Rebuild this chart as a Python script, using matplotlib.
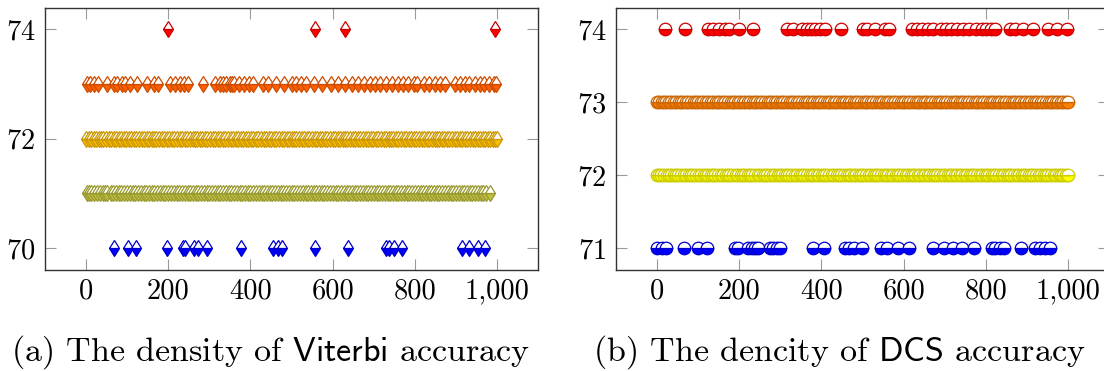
import matplotlib
matplotlib.use("Agg")
import matplotlib.pyplot as plt
from matplotlib.colors import LinearSegmentedColormap, Normalize
from matplotlib.ticker import FuncFormatter

plt.rcParams['font.family'] = 'cmr10'
plt.rcParams['mathtext.fontset'] = 'cm'
plt.rcParams['axes.formatter.use_mathtext'] = True

# pgfplots "hot" colormap
hot = LinearSegmentedColormap.from_list(
    'pgf_hot', [(0, (0, 0, 1)), (1/3, (1, 1, 0)), (2/3, (1, 0.5, 0)), (1, (1, 0, 0))])

# (a) Viterbi accuracy: x positions for each accuracy level
vit_levels = [70, 71, 72, 73, 74]
vit_74 = [200, 557, 629, 995]
vit_73 = [2, 10, 18, 28, 51, 67, 76, 87, 95, 107, 123, 147, 164, 176, 204, 216,
          228, 238, 248, 284, 313, 325, 334, 341, 349, 355, 361, 373, 385, 397,
          407, 430, 442, 462, 482, 502, 512, 522, 534, 555, 575, 595, 613, 631,
          647, 662, 676, 690, 702, 716, 731, 745, 758, 770, 784, 797, 806, 822,
          835, 848, 861, 874, 898, 910, 921, 933, 946, 958, 969, 981, 992, 998]
vit_72 = [0, 6, 13, 19, 24, 31, 37, 42, 49, 55, 61, 68, 73, 80, 86, 91, 98, 104,
          110, 117, 122, 129, 135, 141, 147, 153, 160, 166, 171, 178, 184, 190,
          197, 202, 209, 215, 221, 228, 233, 240, 246, 252, 259, 264, 271, 277,
          283, 290, 295, 302, 308, 314, 321, 326, 333, 339, 345, 352, 357, 364,
          370, 376, 383, 388, 395, 401, 407, 414, 419, 426, 432, 438, 445, 450,
          457, 463, 469, 476, 481, 488, 494, 500, 507, 512, 519, 525, 531, 538,
          543, 550, 556, 562, 569, 574, 581, 587, 593, 600, 605, 612, 618, 624,
          631, 636, 643, 649, 655, 662, 667, 674, 680, 686, 693, 698, 705, 711,
          717, 724, 729, 736, 742, 748, 755, 760, 767, 773, 779, 786, 791, 798,
          804, 810, 817, 822, 829, 835, 841, 848, 853, 860, 866, 872, 879, 884,
          891, 897, 903, 910, 915, 922, 928, 934, 941, 946, 953, 959, 965, 972,
          977, 984, 990, 996, 999]
vit_71 = [1, 7, 12, 20, 27, 33, 40, 47, 52, 60, 66, 73, 79, 86, 93, 99, 106, 113,
          119, 126, 133, 140, 146, 153, 160, 166, 173, 180, 186, 193, 200, 207,
          214, 220, 227, 233, 240, 247, 254, 260, 267, 273, 280, 287, 294, 300,
          307, 314, 320, 327, 334, 340, 347, 353, 360, 367, 374, 380, 387, 394,
          400, 407, 413, 420, 427, 434, 440, 447, 453, 460, 467, 474, 480, 487,
          494, 500, 507, 514, 520, 527, 534, 540, 547, 554, 560, 567, 574, 580,
          587, 594, 600, 607, 614, 620, 627, 634, 640, 647, 654, 660, 667, 674,
          680, 687, 694, 700, 707, 714, 720, 727, 734, 740, 747, 754, 760, 767,
          774, 780, 787, 794, 800, 807, 814, 820, 827, 834, 840, 847, 854, 860,
          867, 874, 880, 887, 894, 900, 907, 914, 920, 927, 934, 940, 947, 954,
          960, 967, 974, 982]
vit_70 = [67, 101, 122, 196, 236, 240, 263, 272, 295, 378, 454, 466, 476, 556,
          637, 729, 736, 750, 769, 915, 931, 954, 970]

# (b) DCS accuracy
dcs_levels = [71, 72, 73, 74]
dcs_74 = [18, 69, 125, 137, 150, 165, 175, 200, 234, 316, 331, 352, 364, 375,
          384, 397, 409, 448, 500, 510, 531, 555, 565, 620, 632, 645, 660, 672,
          690, 703, 715, 730, 745, 760, 775, 790, 800, 812, 822, 859, 871, 890,
          915, 951, 973, 997]
dcs_73 = [0, 5, 11, 17, 22, 28, 35, 40, 46, 53, 58, 64, 71, 76, 82, 89, 94, 100,
          107, 112, 118, 125, 130, 136, 143, 148, 154, 161, 166, 172, 179, 184,
          190, 197, 202, 208, 215, 220, 226, 233, 238, 244, 251, 256, 262, 269,
          274, 280, 287, 292, 298, 305, 310, 316, 323, 328, 334, 341, 346, 352,
          359, 364, 370, 377, 382, 388, 395, 400, 406, 413, 418, 424, 431, 436,
          442, 449, 454, 460, 467, 472, 478, 485, 490, 496, 503, 508, 514, 521,
          526, 532, 539, 544, 550, 557, 562, 568, 575, 580, 586, 593, 598, 604,
          611, 616, 622, 629, 634, 640, 647, 652, 658, 665, 670, 676, 683, 688,
          694, 701, 706, 712, 719, 724, 730, 737, 742, 748, 755, 760, 766, 773,
          778, 784, 791, 796, 802, 809, 814, 820, 827, 832, 838, 845, 850, 856,
          863, 868, 874, 881, 886, 892, 899, 904, 910, 917, 922, 928, 935, 940,
          946, 953, 958, 964, 971, 976, 982, 989, 994, 1000]
dcs_72 = [0, 4, 10, 16, 23, 29, 34, 41, 47, 52, 59, 65, 70, 77, 83, 88, 95, 101,
          106, 113, 119, 124, 131, 137, 142, 149, 155, 160, 167, 173, 178, 185,
          191, 196, 203, 209, 214, 221, 227, 232, 239, 245, 250, 257, 263, 268,
          275, 281, 286, 293, 299, 304, 311, 317, 322, 329, 335, 340, 347, 353,
          358, 365, 371, 376, 383, 389, 394, 401, 407, 412, 419, 425, 430, 437,
          443, 448, 455, 461, 466, 473, 479, 484, 491, 497, 502, 509, 515, 520,
          527, 533, 538, 545, 551, 556, 563, 569, 574, 581, 587, 592, 599, 605,
          610, 617, 623, 628, 635, 641, 646, 653, 659, 664, 671, 677, 682, 689,
          695, 700, 707, 713, 718, 725, 731, 736, 743, 749, 754, 761, 767, 772,
          779, 785, 790, 797, 803, 808, 815, 821, 826, 833, 839, 844, 851, 857,
          862, 869, 875, 880, 887, 893, 898, 905, 911, 916, 923, 929, 934, 941,
          947, 952, 959, 965, 970, 977, 983, 988, 995, 1000]
dcs_71 = [0, 11, 22, 66, 100, 121, 190, 198, 222, 230, 238, 246, 275, 283, 291,
          299, 380, 405, 457, 468, 478, 498, 545, 559, 587, 614, 672, 698, 721,
          741, 771, 814, 822, 834, 845, 885, 920, 932, 944, 956]

x_ticks = [0, 200, 400, 600, 800, 1000]


def style_axes(ax, yticks):
    ax.set_xlim(-100, 1100)
    ax.set_xticks(x_ticks)
    ax.set_yticks(yticks)
    ax.xaxis.set_major_formatter(FuncFormatter(lambda v, p: f'{int(v):,}'))
    ax.tick_params(direction='in', length=8, width=0.8, color='#9a9a9a',
                   top=True, right=True, labelsize=20.5, pad=6)
    ax.tick_params(axis='y', pad=7)
    for s in ax.spines.values():
        s.set_color('#333333')
        s.set_linewidth(1.0)


def draw_rows(ax, rows, levels, marker, ms):
    norm = Normalize(min(levels), max(levels))
    for y, xs in rows:
        c = hot(norm(y))
        edge = tuple(0.8 * v for v in c[:3])
        ax.plot(xs, [y] * len(xs), linestyle='none', marker=marker, ms=ms,
                mfc=c, mfcalt='white', fillstyle='bottom', mec=edge, mew=0.9)


fig = plt.figure(figsize=(11.04, 3.71), dpi=100)

ax1 = fig.add_axes([0.0408, 0.2722, 0.4466, 0.7075])
draw_rows(ax1, [(70, vit_70), (71, vit_71), (72, vit_72), (73, vit_73), (74, vit_74)],
          vit_levels, 'd', 8.3)
ax1.set_ylim(69.6, 74.4)
style_axes(ax1, [70, 72, 74])

ax2 = fig.add_axes([0.558, 0.2722, 0.4466, 0.7075])
draw_rows(ax2, [(71, dcs_71), (72, dcs_72), (73, dcs_73), (74, dcs_74)],
          dcs_levels, 'o', 9)
ax2.set_ylim(70.7, 74.3)
style_axes(ax2, [71, 72, 73, 74])

fig.text(0.2448, 0.051, r'(a) The density of $\mathsf{Viterbi}$ accuracy',
         ha='center', va='center', fontsize=24.5)
fig.text(0.760, 0.051, r'(b) The dencity of $\mathsf{DCS}$ accuracy',
         ha='center', va='center', fontsize=24.5)

fig.savefig('out.png', dpi=100)
